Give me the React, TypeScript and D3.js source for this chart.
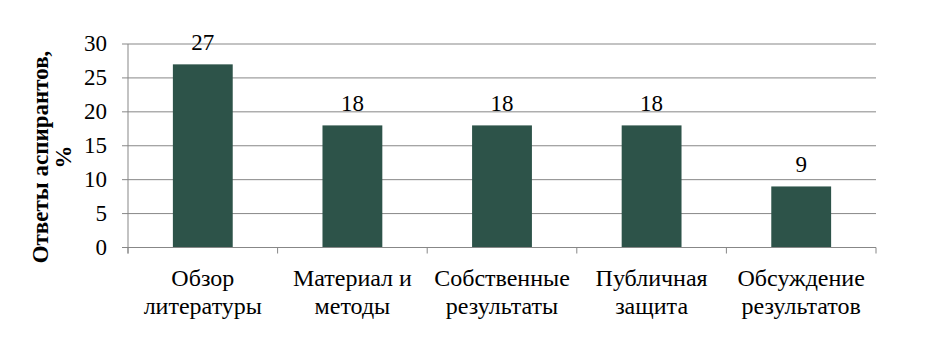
import React, { useEffect, useRef } from 'react'
import * as d3 from 'd3'

// chart data
const categories = [
    ['Обзор', 'литературы'],
    ['Материал и', 'методы'],
    ['Собственные', 'результаты'],
    ['Публичная', 'защита'],
    ['Обсуждение', 'результатов'],
]
const values = [27, 18, 18, 18, 9]
const yTicks = [0, 5, 10, 15, 20, 25, 30]
const yTitle = ['Ответы аспирантов,', '%']

const config = {
    width: 927,
    height: 351,
    left: 128,
    right: 876,
    top: 44,
    bottom: 247.5,
    barFrac: 0.4,
    barColor: '#2d5349',
    gridColor: '#878787',
    font: '"Liberation Serif", "Times New Roman", serif',
}

export default function App() {
    const ref = useRef<SVGSVGElement>(null)

    useEffect(() => {
        const svg = d3.select(ref.current)
        svg.selectAll('*').remove()

        const keys = categories.map((c) => c.join(' '))
        const x = d3.scaleBand().domain(keys).range([config.left, config.right]).padding(0)
        const y = d3.scaleLinear().domain([0, 30]).range([config.bottom, config.top])

        const g = svg.append('g')

        // gridlines
        g.selectAll('.grid').data(yTicks.filter((t) => t > 0)).join('line')
            .attr('class', 'grid')
            .attr('x1', config.left).attr('x2', config.right)
            .attr('y1', (d) => y(d)).attr('y2', (d) => y(d))
            .attr('stroke', config.gridColor).attr('stroke-width', 1)

        // y ticks + labels
        g.selectAll('.ytick').data(yTicks).join('line')
            .attr('class', 'ytick')
            .attr('x1', config.left - 6).attr('x2', config.left)
            .attr('y1', (d) => y(d)).attr('y2', (d) => y(d))
            .attr('stroke', config.gridColor)
        g.selectAll('.ylabel').data(yTicks).join('text')
            .attr('class', 'ylabel')
            .attr('x', config.left - 21)
            .attr('y', (d) => y(d) + 7)
            .attr('text-anchor', 'end')
            .style('font-family', config.font).style('font-size', '23px')
            .text((d) => d)

        // bars
        const bw = x.bandwidth() * config.barFrac
        g.selectAll('.bar').data(values).join('rect')
            .attr('class', 'bar')
            .attr('x', (d, i) => x(keys[i])! + (x.bandwidth() - bw) / 2)
            .attr('width', bw)
            .attr('y', (d) => y(d))
            .attr('height', (d) => y(0) - y(d))
            .attr('fill', config.barColor)

        // value labels
        g.selectAll('.vlabel').data(values).join('text')
            .attr('class', 'vlabel')
            .attr('x', (d, i) => x(keys[i])! + x.bandwidth() / 2)
            .attr('y', (d) => y(d) - 14)
            .attr('text-anchor', 'middle')
            .style('font-family', config.font).style('font-size', '23px')
            .text((d) => d)

        // axes lines
        g.append('line')
            .attr('x1', config.left).attr('x2', config.left)
            .attr('y1', config.top).attr('y2', config.bottom + 6)
            .attr('stroke', config.gridColor)
        g.append('line')
            .attr('x1', config.left).attr('x2', config.right)
            .attr('y1', config.bottom).attr('y2', config.bottom)
            .attr('stroke', config.gridColor)
        const edges = keys.map((k) => x(k)!).concat([config.right])
        g.selectAll('.xtick').data(edges).join('line')
            .attr('class', 'xtick')
            .attr('x1', (d) => d).attr('x2', (d) => d)
            .attr('y1', config.bottom).attr('y2', config.bottom + 6)
            .attr('stroke', config.gridColor)

        // category labels
        const cl = g.selectAll('.xlabel').data(categories).join('text')
            .attr('class', 'xlabel')
            .attr('text-anchor', 'middle')
            .style('font-family', config.font).style('font-size', '24px')
        cl.selectAll('tspan').data((d) => d).join('tspan')
            .attr('x', function () {
                const c = (d3.select(this.parentNode as any).datum() as string[]).join(' ')
                return x(c)! + x.bandwidth() / 2
            })
            .attr('y', (d, i) => 286 + i * 28)
            .text((d) => d)

        // y title
        const t = g.append('text')
            .attr('transform', 'translate(0,157) rotate(-90)')
            .attr('text-anchor', 'middle')
            .style('font-family', config.font).style('font-size', '23px').style('font-weight', 'bold')
        t.selectAll('tspan').data(yTitle).join('tspan')
            .attr('x', 0)
            .attr('y', (d, i) => 48 + i * 23)
            .text((d) => d)
    }, [])

    return <svg ref={ref} width={config.width} height={config.height} style={{ display: 'block', margin: '-8px' }} />
}
